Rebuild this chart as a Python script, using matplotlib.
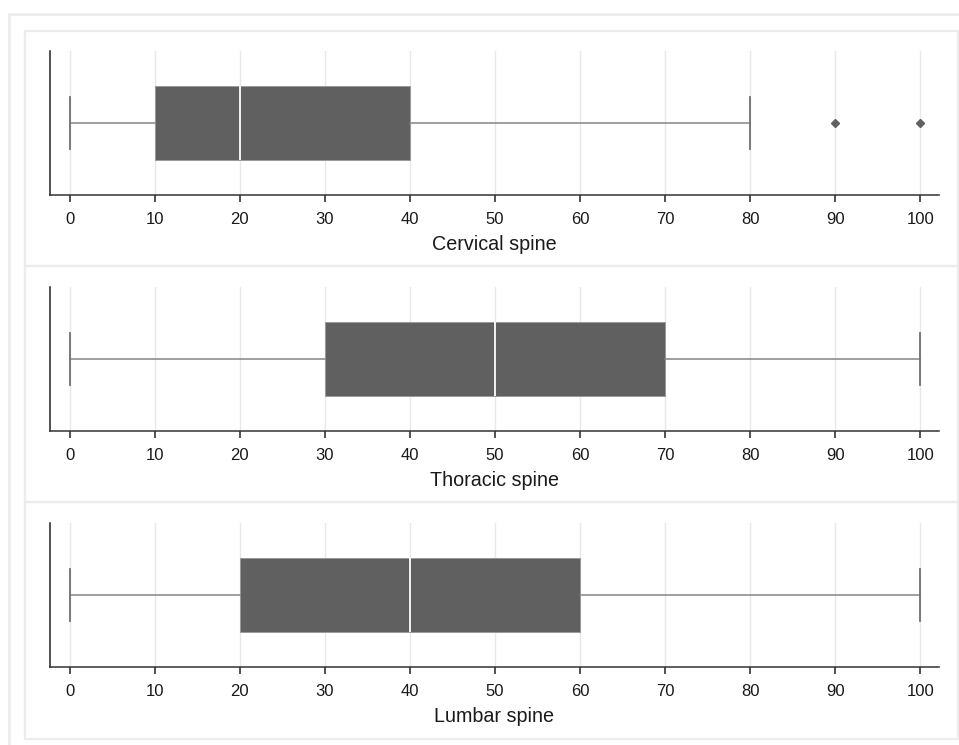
import matplotlib.pyplot as plt
from matplotlib.patches import Rectangle

plt.rcParams['font.family'] = ['Liberation Sans', 'DejaVu Sans']

W, H = 959, 745

# five-number summaries per spine region
regions = ['Cervical spine', 'Thoracic spine', 'Lumbar spine']
whis_lo = [0, 0, 0]
q1 = [10, 30, 20]
median = [20, 50, 40]
q3 = [40, 70, 60]
whis_hi = [80, 100, 100]
outliers = [[90, 100], [], []]
xticks = list(range(0, 101, 10))

BOX = '#606060'
GRID = '#e8e8e8'
FRAME = '#ececec'
TEXT = '#1a1a1a'


def fig_rect(x0, y0, x1, y1):
    # pixel box (top-left origin) -> figure fraction [left, bottom, width, height]
    return [x0 / W, 1 - y1 / H, (x1 - x0) / W, (y1 - y0) / H]


fig = plt.figure(figsize=(W / 100, H / 100), dpi=100)
fig.patch.set_facecolor('white')

# outer frame and panel frames
frames = [(8.5, 13.5, 975, 760, 2.0),
          (24.5, 30.5, 958, 266, 1.6),
          (24.5, 266, 958, 502, 1.6),
          (24.5, 502, 958, 739, 1.6)]
for x0, y0, x1, y1, lw in frames:
    fig.patches.append(Rectangle((x0 / W, 1 - y1 / H), (x1 - x0) / W, (y1 - y0) / H,
                                 transform=fig.transFigure, fill=False,
                                 edgecolor=FRAME, linewidth=lw, zorder=0))

tops = [51, 287, 523]
for i, name in enumerate(regions):
    ax = fig.add_axes(fig_rect(50, tops[i], 939, tops[i] + 144))
    stats = [dict(whislo=whis_lo[i], q1=q1[i], med=median[i], q3=q3[i],
                  whishi=whis_hi[i], fliers=outliers[i])]
    ax.bxp(stats, positions=[1], vert=False, widths=0.52, patch_artist=True,
           showfliers=True,
           boxprops=dict(facecolor=BOX, edgecolor='#9a9a9a', linewidth=0.7),
           medianprops=dict(color='white', linewidth=1.3),
           whiskerprops=dict(color='#858585', linewidth=1.1),
           capprops=dict(color='#707070', linewidth=1.3),
           capwidths=0.36,
           flierprops=dict(marker='D', markersize=4.5, markerfacecolor=BOX,
                           markeredgecolor=BOX))
    ax.set_xlim(-2.3, 102.2)
    ax.set_ylim(0.5, 1.5)
    ax.set_xticks(xticks)
    ax.set_yticks([])
    ax.grid(axis='x', color=GRID, linewidth=1.0)
    ax.set_axisbelow(True)
    for side in ('top', 'right'):
        ax.spines[side].set_visible(False)
    ax.spines['left'].set_color('#222222')
    ax.spines['bottom'].set_color('#333333')
    ax.spines['left'].set_linewidth(1.1)
    ax.spines['bottom'].set_linewidth(1.1)
    ax.tick_params(axis='x', length=5, width=1.1, color='#222222', pad=7,
                   labelsize=12, labelcolor=TEXT)
    ax.set_xlabel(name, fontsize=14.2, color=TEXT, labelpad=6)
    ax.set_ylabel('')

fig.savefig('out.png', dpi=100)
